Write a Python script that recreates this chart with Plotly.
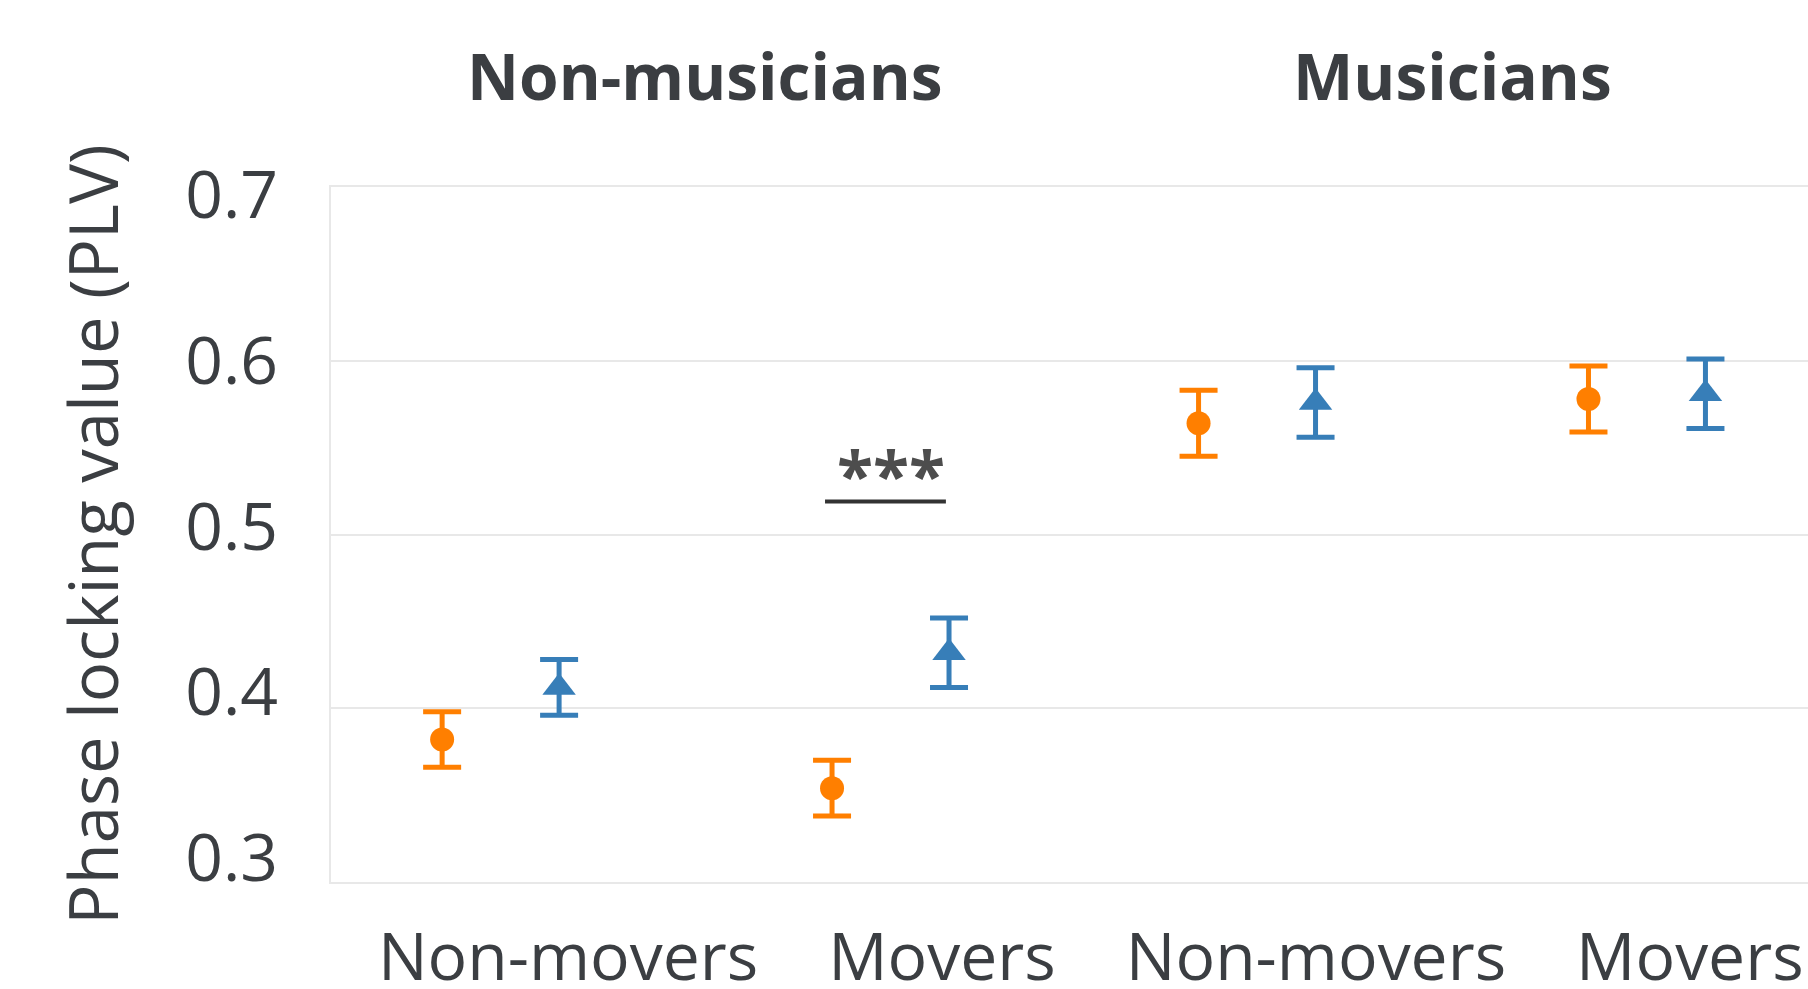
import plotly.graph_objects as go

# Groups and conditions
groups = ["Non-musicians", "Musicians"]
movement = ["Non-movers", "Movers"]

# Mean PLV and SEM, ordered: NM non-movers, NM movers, M non-movers, M movers
cond_a_mean = [0.382, 0.354, 0.564, 0.578]
cond_a_sem = [0.016, 0.016, 0.019, 0.019]
cond_b_mean = [0.412, 0.432, 0.576, 0.581]
cond_b_sem = [0.016, 0.020, 0.020, 0.020]

y_ticks = [0.3, 0.4, 0.5, 0.6, 0.7]

TEXT = "#3b3e42"
GRID = "#e8e8e8"
ORANGE = "#ff7f00"
BLUE = "#377eb8"
FONT = "Open Sans"

# x layout: one unit between movement levels, groups a little under two units apart,
# the two conditions dodged either side of each level
GROUP_STEP = 1.94
DODGE = 0.15
base = [g * GROUP_STEP + m for g in range(len(groups)) for m in range(len(movement))]
x_a = [b - DODGE for b in base]
x_b = [b + DODGE for b in base]

fig = go.Figure()

fig.add_trace(go.Scatter(
    x=x_a, y=cond_a_mean, mode="markers", name="Condition A",
    marker=dict(symbol="circle", size=24, color=ORANGE, line=dict(width=0)),
    error_y=dict(type="data", array=cond_a_sem, color=ORANGE, thickness=5, width=19),
    showlegend=False,
))
fig.add_trace(go.Scatter(
    x=x_b, y=cond_b_mean, mode="markers", name="Condition B",
    marker=dict(symbol="triangle-up", size=29, color=BLUE, line=dict(width=0)),
    error_y=dict(type="data", array=cond_b_sem, color=BLUE, thickness=5, width=19),
    showlegend=False,
))
# empty trace carrying the label axes
fig.add_trace(go.Scatter(x=[None], y=[None], xaxis="x2", yaxis="y2",
                         showlegend=False, hoverinfo="skip"))

# significance bar over the non-musician movers
sig_i = 1
sig_mid = base[sig_i] - 0.013
fig.add_shape(type="line", xref="x", yref="y",
              x0=sig_mid - 0.155, x1=sig_mid + 0.155, y0=0.519, y1=0.519,
              line=dict(color="#333333", width=4))
fig.add_annotation(x=base[sig_i], y=0.535, xref="x", yref="y", text="***",
                   showarrow=False, yanchor="middle",
                   font=dict(family=FONT, size=66, color="#4d4d4d", weight=700))

# group headers, placed on the label axis (two label slots per group)
HEADER_POS = 0.366
for g, name in enumerate(groups):
    fig.add_annotation(x=2 * g + HEADER_POS, y=1.16, xref="x2", yref="paper",
                       text=name, showarrow=False, yanchor="middle",
                       font=dict(family=FONT, size=64, color=TEXT, weight=700))

tick_font = dict(family=FONT, size=66, color=TEXT)

fig.update_layout(
    width=1808, height=989,
    margin=dict(l=331, r=0, t=187, b=107),
    paper_bgcolor="white", plot_bgcolor="white",
    font=dict(family=FONT, color=TEXT),
    xaxis=dict(range=[-0.435, 3.353], showgrid=False, zeroline=False,
               showticklabels=False, showline=True, mirror=True,
               linecolor=GRID, linewidth=2, automargin=False),
    yaxis=dict(range=[0.3, 0.7], tickvals=y_ticks, showticklabels=False,
               showgrid=True, gridcolor=GRID, gridwidth=2, zeroline=False,
               showline=True, linecolor=GRID, linewidth=2, ticks=""),
    xaxis2=dict(overlaying="x", anchor="y2", range=[-0.634, 3.316],
                tickvals=[0, 1, 2, 3], ticktext=movement * len(groups),
                showgrid=False, zeroline=False, showline=False, ticks="",
                tickfont=tick_font, ticklabelstandoff=31, automargin=False),
    yaxis2=dict(overlaying="y", anchor="x2", side="left", range=[0.2855, 0.7048],
                tickvals=y_ticks, ticktext=[f"{v:.1f}" for v in y_ticks],
                showgrid=False, zeroline=False, showline=False, ticks="",
                tickfont=tick_font, ticklabelstandoff=52,
                title=dict(text="Phase locking value (PLV)", standoff=44,
                           font=dict(family=FONT, size=67, color=TEXT))),
)

fig.write_html("out.html")
